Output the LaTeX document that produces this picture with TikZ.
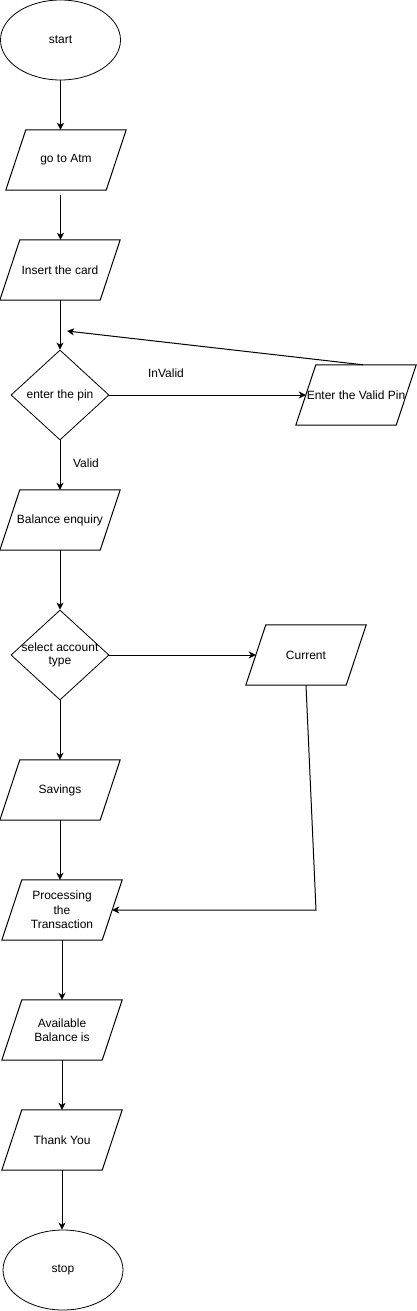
\documentclass[tikz,border=0pt]{standalone}
\usepackage{fontspec}
\setmainfont{Liberation Sans}
\usetikzlibrary{shapes.geometric,arrows.meta}
\tikzset{
  base/.style={font=\fontsize{12pt}{14.4pt}\selectfont, inner sep=0pt, align=center},
  para/.style={base, shape=rectangle, minimum width=120pt, minimum height=60pt},
  oval/.style={base, shape=ellipse, draw, line width=0.8pt, minimum width=120pt, minimum height=80pt},
  decis/.style={base, shape=diamond, draw, line width=0.8pt, minimum width=98pt, minimum height=90pt},
  arr/.style={line width=1pt, -{Stealth[length=7pt,width=7pt,inset=2pt]}},
  lbl/.style={base},
  edge/.style={line width=1pt, line join=miter}
}
\begin{document}
\begin{tikzpicture}[x=1pt,y=-1pt]
\useasboundingbox (0,0) rectangle (417,1311);
% nodes
\node[oval] (start) at (60.5,40) {start};
\node[para] (atm) at (66,160) {go to Atm};
\node[para] (card) at (60,270) {Insert the card};
\node[decis] (pin) at (60,395) {\makebox[0pt]{enter the pin}};
\node[para] (valid) at (356,395) {\makebox[0pt]{Enter the Valid Pin}};
\node[para] (bal) at (60,520) {Balance enquiry};
\node[decis] (acct) at (60,655) {\makebox[0pt]{\begin{tabular}{@{}c@{}}select account\\[-1pt]type\end{tabular}}};
\node[para] (cur) at (306,655) {Current};
\node[para] (sav) at (60,790) {Savings};
\node[para] (proc) at (62,910) {Processing\\the\\Transaction};
\node[para] (avail) at (62,1030) {Available\\Balance is};
\node[para] (thank) at (62,1140) {Thank You};
\node[oval] (stop) at (63,1270) {stop};
\node[lbl] (linv) at (166,373) {InValid};
\node[lbl] (lval) at (86,463) {Valid};
% parallelogram outlines
\foreach \n in {atm,card,valid,bal,cur,sav,proc,avail,thank}{
  \draw[edge] ([xshift=20pt]\n.north west) -- (\n.north east) -- ([xshift=-20pt]\n.south east) -- (\n.south west) -- cycle;
}
% free ends
\coordinate (atmout) at (60.5,195);
\coordinate (back) at (67,331);
\coordinate (bend) at (316,910);
% connectors
\draw[arr] (start.south) -- (start.south |- atm.north);
\draw[arr] (atmout) -- (atmout |- card.north);
\draw[arr] (card.south) -- (pin.north);
\draw[arr] (pin.east) -- ([xshift=10pt]valid.west);
\draw[arr] ([xshift=7pt]valid.north) -- (back);
\draw[arr] (pin.south) -- (bal.north);
\draw[arr] (bal.south) -- (acct.north);
\draw[arr] (acct.east) -- ([xshift=10pt]cur.west);
\draw[arr] (acct.south) -- (sav.north);
\draw[arr] (sav.south) -- (sav.south |- proc.north);
\draw[arr] (cur.south) -- (bend) -- ([xshift=-10pt]proc.east);
\draw[arr] (proc.south) -- (avail.north);
\draw[arr] (avail.south) -- (thank.north);
\draw[arr] (thank.south) -- (thank.south |- stop.north);
\end{tikzpicture}
\end{document}
